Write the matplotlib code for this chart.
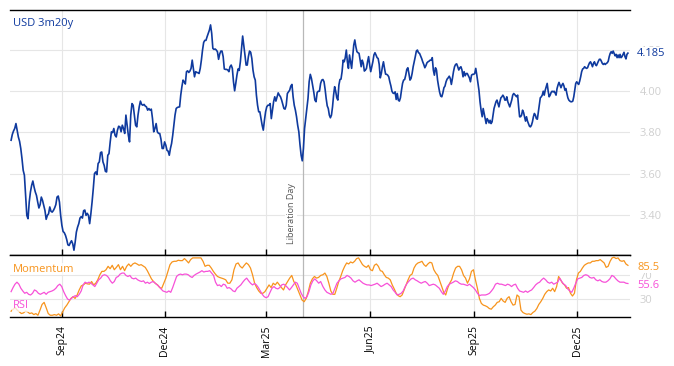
import matplotlib
matplotlib.use('Agg')
import matplotlib.pyplot as plt
import matplotlib.dates as mdates
import matplotlib.ticker as mticker
import pandas as pd

plt.rcParams['font.family'] = 'Open Sans'

# USD 3m20y rate in four stretches
rate_jul_dec24 = [3.762, 3.790, 3.807, 3.819, 3.843, 3.811, 3.778, 3.757, 3.722, 3.673, 3.616, 3.592, 3.494, 3.397, 3.381, 3.462, 3.511, 3.543, 3.564, 3.535, 3.511, 3.494, 3.462, 3.433, 3.449, 3.486, 3.470, 3.446, 3.421, 3.378, 3.397, 3.405, 3.438, 3.417, 3.413, 3.421, 3.433, 3.449, 3.486, 3.491, 3.462, 3.397, 3.349, 3.319, 3.313, 3.300, 3.280, 3.254, 3.251, 3.264, 3.274, 3.259, 3.228, 3.267, 3.316, 3.340, 3.357, 3.384, 3.391, 3.384, 3.420, 3.423, 3.397, 3.407, 3.397, 3.357, 3.405, 3.462, 3.527, 3.600, 3.608, 3.595, 3.649, 3.657, 3.702, 3.705, 3.657, 3.640, 3.611, 3.608, 3.689, 3.697, 3.754, 3.803, 3.799, 3.819, 3.786, 3.778, 3.811, 3.830, 3.827, 3.803, 3.835, 3.819, 3.795, 3.884, 3.835, 3.786, 3.754, 3.884, 3.940, 3.932, 3.884, 3.835, 3.827, 3.884, 3.924, 3.952, 3.936, 3.932, 3.936, 3.928, 3.924, 3.908, 3.916, 3.908, 3.913, 3.867, 3.803, 3.819, 3.843, 3.803, 3.795, 3.795, 3.767, 3.722, 3.722, 3.754, 3.738, 3.713]
rate_dec24_apr25 = [3.709, 3.689, 3.722, 3.746, 3.786, 3.835, 3.884, 3.916, 3.921, 3.923, 3.924, 3.981, 4.022, 4.054, 4.046, 4.035, 4.095, 4.099, 4.091, 4.098, 4.111, 4.151, 4.111, 4.070, 4.095, 4.091, 4.090, 4.086, 4.111, 4.151, 4.200, 4.237, 4.247, 4.247, 4.265, 4.281, 4.297, 4.322, 4.281, 4.208, 4.203, 4.205, 4.200, 4.192, 4.155, 4.181, 4.195, 4.195, 4.168, 4.108, 4.106, 4.106, 4.103, 4.095, 4.119, 4.127, 4.111, 4.046, 4.002, 4.038, 4.078, 4.108, 4.101, 4.143, 4.208, 4.268, 4.224, 4.176, 4.127, 4.127, 4.168, 4.195, 4.189, 4.159, 4.103, 4.070, 4.054, 3.981, 3.932, 3.900, 3.900, 3.867, 3.835, 3.811, 3.859, 3.900, 3.924, 3.932, 3.932, 3.940, 3.867, 3.908, 3.949, 3.973, 3.952, 3.973, 3.992, 3.981, 3.973, 3.957, 3.936, 3.916, 3.913, 3.932, 3.989, 3.997, 4.005, 4.025, 4.033, 3.973, 3.932, 3.908, 3.876, 3.835, 3.803, 3.741, 3.689, 3.662, 3.722, 3.819, 3.867, 3.916, 3.965, 4.046, 4.082, 4.062, 4.030, 3.997, 3.957, 3.949, 3.994, 4.000, 4.000, 4.038, 4.054, 4.057]
rate_apr_sep25 = [4.046, 4.010, 3.965, 3.929, 3.916, 3.884, 3.871, 3.884, 3.924, 3.981, 4.022, 4.000, 3.968, 3.957, 4.030, 4.057, 4.059, 4.095, 4.151, 4.143, 4.163, 4.200, 4.143, 4.111, 4.176, 4.143, 4.111, 4.168, 4.224, 4.249, 4.216, 4.192, 4.187, 4.184, 4.151, 4.119, 4.151, 4.135, 4.098, 4.103, 4.111, 4.143, 4.168, 4.127, 4.095, 4.119, 4.143, 4.176, 4.187, 4.176, 4.163, 4.159, 4.130, 4.065, 4.086, 4.119, 4.143, 4.111, 4.083, 4.082, 4.078, 4.070, 4.046, 4.026, 4.000, 3.991, 3.989, 3.997, 3.960, 3.989, 3.957, 3.952, 3.968, 4.005, 4.038, 4.054, 4.057, 4.078, 4.106, 4.114, 4.086, 4.054, 4.062, 4.086, 4.119, 4.143, 4.168, 4.195, 4.200, 4.187, 4.184, 4.172, 4.159, 4.143, 4.130, 4.114, 4.124, 4.138, 4.143, 4.146, 4.151, 4.151, 4.163, 4.103, 4.078, 4.114, 4.103, 4.054, 4.022, 3.994, 3.976, 3.973, 3.992, 4.017, 4.025, 4.046, 4.059, 4.065, 4.073, 4.062, 4.033, 4.062, 4.095, 4.119, 4.130, 4.133, 4.119, 4.103, 4.114, 4.119, 4.103, 4.070, 4.095, 4.075, 4.086, 4.086, 4.075, 4.065, 4.046, 4.078, 4.082, 4.082, 4.086, 4.111, 4.078, 4.041, 4.005, 3.949, 3.908]
rate_sep25_jan26 = [3.876, 3.916, 3.892, 3.867, 3.843, 3.867, 3.859, 3.846, 3.859, 3.843, 3.851, 3.884, 3.916, 3.932, 3.949, 3.957, 3.940, 3.924, 3.949, 3.968, 3.973, 3.981, 3.973, 3.957, 3.957, 3.973, 3.949, 3.936, 3.924, 3.940, 3.957, 3.981, 3.989, 3.984, 3.978, 3.973, 3.981, 3.924, 3.876, 3.876, 3.884, 3.908, 3.897, 3.876, 3.855, 3.876, 3.855, 3.843, 3.830, 3.827, 3.835, 3.851, 3.876, 3.892, 3.884, 3.867, 3.864, 3.900, 3.940, 3.968, 3.973, 3.981, 4.000, 3.981, 4.005, 4.022, 4.038, 4.000, 3.973, 3.981, 3.994, 4.000, 3.997, 4.000, 3.992, 3.981, 4.013, 4.030, 4.043, 4.030, 4.017, 4.030, 4.038, 4.026, 4.005, 4.013, 3.989, 3.968, 3.957, 3.952, 3.949, 3.949, 3.952, 3.973, 4.005, 4.038, 4.046, 4.038, 4.033, 4.049, 4.070, 4.095, 4.108, 4.111, 4.119, 4.114, 4.111, 4.114, 4.127, 4.138, 4.143, 4.132, 4.119, 4.135, 4.143, 4.130, 4.124, 4.135, 4.146, 4.155, 4.155, 4.146, 4.135, 4.130, 4.135, 4.130, 4.135, 4.138, 4.146, 4.168, 4.184, 4.192, 4.184, 4.195, 4.184, 4.172, 4.179, 4.163, 4.176, 4.163, 4.179, 4.163, 4.168, 4.179, 4.189, 4.168, 4.157, 4.179, 4.185]
rate_spans = [('2024-07-18', '2024-12-03'), ('2024-12-04', '2025-04-20'),
              ('2025-04-21', '2025-09-07'), ('2025-09-08', '2026-01-15')]

# momentum and RSI, two stretches each
momentum_a = [10.0, 13.3, 15.6, 11.7, 8.9, 6.1, 7.2, 10.0, 8.9, 6.1, 7.2, 4.4, 6.1, 3.3, 11.7, 21.1, 24.5, 15.6, 6.1, 3.3, 3.3, 4.4, 3.3, 5.6, 2.2, 8.9, 15.6, 20.0, 25.6, 31.1, 33.9, 31.1, 36.7, 45.0, 51.7, 53.3, 56.1, 55.0, 54.5, 58.9, 53.3, 56.1, 61.7, 70.0, 75.6, 75.6, 78.3, 83.9, 80.0, 85.6, 78.3, 82.2, 86.7, 78.3, 83.9, 76.7, 83.9, 87.8, 83.9, 87.8, 89.5, 87.8, 85.6, 86.7, 84.5, 82.2, 76.7, 70.0, 63.3, 58.9, 55.6, 53.3, 48.9, 47.8, 56.1, 64.5, 75.6, 86.7, 91.1, 92.2, 92.2, 93.9, 93.3, 93.3, 96.7, 93.3, 89.5, 95.0, 97.8, 97.8, 97.8, 97.8, 97.8, 92.2, 83.9, 85.6, 85.6, 81.1, 75.6, 71.1, 67.2, 65.6, 64.5, 63.3, 61.7, 56.1, 56.1, 61.7, 78.3, 87.8, 89.5, 83.9, 81.1, 85.6, 89.5, 86.7, 81.1, 70.0, 56.1, 48.9, 43.3, 39.5, 39.5, 42.2, 47.8, 53.3, 48.9, 56.1, 53.3, 57.8, 53.3, 48.9, 45.0, 53.3, 58.9, 64.5, 68.9, 58.9, 53.3, 45.0, 36.7, 28.3, 25.6, 31.1, 42.2, 56.1, 63.3, 67.2, 64.5, 65.6, 68.9]
momentum_b = [70.0, 72.8, 67.2, 56.1, 43.3, 37.8, 37.8, 47.8, 58.9, 67.2, 76.7, 83.9, 89.5, 87.8, 91.1, 89.5, 92.2, 96.7, 97.8, 92.2, 86.7, 83.9, 82.2, 85.6, 78.3, 76.7, 85.6, 87.8, 83.9, 76.7, 75.6, 70.0, 65.6, 64.5, 61.7, 53.3, 46.7, 39.5, 35.6, 33.9, 36.7, 45.0, 53.3, 61.7, 68.9, 71.1, 81.1, 86.7, 89.5, 90.6, 92.2, 86.7, 83.9, 87.8, 90.6, 89.5, 78.3, 72.8, 68.9, 60.0, 50.6, 41.1, 36.7, 47.8, 56.1, 61.7, 72.8, 81.1, 83.9, 83.9, 78.3, 68.9, 64.5, 56.1, 63.3, 75.6, 78.3, 61.7, 47.8, 31.1, 22.8, 20.0, 18.9, 17.2, 14.4, 13.3, 17.2, 20.0, 24.5, 25.6, 31.1, 26.7, 24.5, 31.1, 33.9, 25.6, 20.0, 21.1, 36.7, 33.9, 11.7, 7.8, 6.1, 5.0, 5.6, 4.4, 7.8, 10.0, 14.4, 21.1, 25.6, 31.1, 37.8, 42.2, 45.0, 43.3, 47.8, 42.2, 50.6, 67.2, 61.7, 56.1, 53.3, 47.8, 48.9, 39.5, 35.0, 39.5, 61.7, 72.8, 75.6, 81.1, 85.6, 87.8, 89.5, 89.5, 92.2, 92.2, 93.3, 93.3, 95.0, 92.2, 89.5, 82.2, 83.9, 92.2, 97.8, 98.9, 96.7, 97.8, 93.3, 92.2, 93.3, 87.8, 85.5]
rsi_a = [42.2, 48.9, 54.5, 57.8, 54.5, 47.8, 43.3, 39.5, 41.1, 37.8, 36.7, 39.5, 45.0, 43.3, 39.5, 37.8, 39.5, 41.1, 37.8, 41.1, 42.2, 43.3, 45.0, 47.8, 52.2, 54.5, 50.6, 42.2, 35.6, 30.0, 28.3, 31.1, 33.9, 35.6, 33.9, 37.8, 43.3, 53.3, 57.8, 56.1, 57.8, 56.1, 53.3, 50.6, 56.1, 61.7, 64.5, 68.9, 70.0, 68.9, 65.6, 60.0, 56.1, 58.9, 65.6, 67.2, 71.1, 72.8, 72.8, 68.9, 67.2, 68.9, 64.5, 63.3, 64.5, 61.7, 60.0, 58.9, 60.0, 56.1, 57.8, 55.6, 57.8, 58.9, 56.1, 53.3, 50.6, 46.7, 43.3, 42.2, 41.1, 43.3, 41.1, 48.9, 57.8, 67.2, 70.0, 71.1, 70.0, 71.1, 71.1, 70.0, 67.2, 65.6, 68.9, 71.1, 72.8, 74.5, 76.7, 74.5, 75.6, 75.6, 76.7, 72.8, 68.9, 57.8, 52.2, 53.3, 50.6, 54.5, 53.3, 47.8, 48.9, 46.7, 43.3, 42.2, 47.8, 50.6, 53.3, 57.8, 61.7, 64.5, 60.0, 56.1, 53.3, 55.6, 53.3, 48.9, 43.3, 37.8, 33.9, 32.2, 33.9, 41.1, 47.8, 50.6, 47.8, 46.7, 48.9, 53.3, 54.5, 52.2, 48.9, 45.0, 48.9, 53.3, 57.8, 56.1, 47.8, 39.5, 33.9, 31.1, 33.9, 42.2, 53.3, 60.0, 63.3, 60.0, 56.1, 58.9]
rsi_b = [50.6, 45.0, 41.1, 39.5, 37.8, 39.5, 47.8, 56.1, 60.0, 63.3, 64.5, 65.6, 68.9, 67.2, 64.5, 60.0, 57.8, 60.0, 61.7, 58.9, 56.1, 54.5, 53.3, 53.3, 52.2, 53.3, 54.5, 56.1, 53.3, 50.6, 52.2, 54.5, 56.1, 53.3, 50.6, 45.0, 41.1, 36.7, 37.8, 39.5, 43.3, 50.6, 56.1, 60.0, 63.3, 64.5, 61.7, 60.0, 57.8, 56.1, 57.8, 58.9, 56.1, 52.2, 53.3, 54.5, 53.3, 50.6, 47.8, 42.2, 37.8, 43.3, 50.6, 54.5, 56.1, 57.8, 60.0, 58.9, 56.1, 54.5, 54.5, 53.3, 52.2, 54.5, 51.7, 48.9, 45.0, 39.5, 35.6, 36.7, 36.7, 36.7, 37.8, 39.5, 43.3, 47.8, 54.5, 56.1, 54.5, 54.5, 53.3, 52.2, 54.5, 53.3, 50.6, 53.3, 54.5, 47.8, 43.3, 42.2, 41.1, 43.3, 41.1, 43.3, 45.0, 48.9, 53.3, 56.1, 57.8, 61.7, 64.5, 61.7, 57.8, 56.1, 57.8, 54.5, 56.1, 57.8, 64.5, 58.9, 54.5, 52.2, 46.7, 43.3, 41.1, 47.8, 56.1, 63.3, 64.5, 65.6, 68.9, 70.0, 68.9, 65.6, 64.5, 65.6, 61.7, 60.0, 61.7, 58.9, 57.8, 57.8, 60.0, 63.3, 68.9, 67.2, 63.3, 60.0, 57.8, 57.8, 57.8, 56.1, 55.6]
osc_spans = [('2024-07-18', '2025-04-18'), ('2025-04-20', '2026-01-15')]

liberation_day = pd.Timestamp('2025-04-02')

BLUE = '#0f3a9e'
ORANGE = '#f7941d'
PINK = '#f751d8'
GRID = '#e6e6e6'
FAINT = '#cfcfcf'


def stitch(pieces, spans):
    dates, vals = [], []
    for seg, (a, b) in zip(pieces, spans):
        dates.extend(pd.date_range(a, b, periods=len(seg)))
        vals.extend(seg)
    return dates, vals


rate_x, rate_y = stitch([rate_jul_dec24, rate_dec24_apr25, rate_apr_sep25, rate_sep25_jan26], rate_spans)
mom_x, mom_y = stitch([momentum_a, momentum_b], osc_spans)
rsi_x, rsi_y = stitch([rsi_a, rsi_b], osc_spans)

fig = plt.figure(figsize=(6.74, 3.66), dpi=100)
gs = fig.add_gridspec(2, 1, height_ratios=[244, 62], hspace=0,
                      left=0.0148, right=0.935, top=0.973, bottom=0.134)
ax = fig.add_subplot(gs[0])
ax2 = fig.add_subplot(gs[1], sharex=ax)

# main rate
ax.plot(rate_x, rate_y, color=BLUE, lw=1.2)
ax.set_ylim(3.206, 4.395)
ax.set_yticks([3.4, 3.6, 3.8, 4.0, 4.2])
ax.yaxis.set_major_formatter(mticker.FormatStrFormatter('%.2f'))
ax.text(0.005, 0.965, 'USD 3m20y', transform=ax.transAxes, va='top', ha='left',
        color=BLUE, fontsize=8)
ax.annotate(f'{rate_y[-1]:.3f}', xy=(1, rate_y[-1]), xycoords=('axes fraction', 'data'),
            xytext=(7, 0), textcoords='offset pixels', va='center', ha='left',
            color=BLUE, fontsize=8, bbox=dict(fc='white', ec='none', pad=0.3))

# oscillators
ax2.plot(mom_x, mom_y, color=ORANGE, lw=0.9)
ax2.plot(rsi_x, rsi_y, color=PINK, lw=0.9)
ax2.set_ylim(0.5, 103)
ax2.set_yticks([30, 70])
ax2.text(0.005, 0.77, 'Momentum', transform=ax2.transAxes, va='center', ha='left',
         color=ORANGE, fontsize=8, bbox=dict(fc='white', ec='none', alpha=0.75, pad=0.5))
ax2.text(0.005, 0.18, 'RSI', transform=ax2.transAxes, va='center', ha='left',
         color=PINK, fontsize=8, bbox=dict(fc='white', ec='none', alpha=0.75, pad=0.5))
for val, col, dy in [(mom_y[-1], ORANGE, -2), (rsi_y[-1], PINK, -2)]:
    ax2.annotate(f'{val:.1f}', xy=(1, val), xycoords=('axes fraction', 'data'),
                 xytext=(7, dy), textcoords='offset pixels', va='center', ha='left',
                 color=col, fontsize=8, bbox=dict(fc='white', ec='none', pad=0.2))

# liberation day marker
for a in (ax, ax2):
    a.axvline(liberation_day, color='#b8b8b8', lw=0.9, zorder=1)
ax.annotate('Liberation Day', xy=(liberation_day, 0), xycoords=('data', 'axes fraction'),
            xytext=(-7, 11), textcoords='offset pixels', rotation=90, ha='right', va='bottom',
            fontsize=6.5, color='#555555', bbox=dict(fc='white', ec='none', pad=0.8))

ax.set_xlim(pd.Timestamp('2024-07-17'), pd.Timestamp('2026-01-17'))
ax2.xaxis.set_major_locator(mdates.MonthLocator(bymonth=[3, 6, 9, 12]))
ax2.xaxis.set_major_formatter(mdates.DateFormatter('%b%y'))

for a in (ax, ax2):
    a.grid(True, color=GRID, lw=0.8)
    a.set_axisbelow(True)
    a.yaxis.tick_right()
    a.tick_params(axis='y', length=0, pad=7, labelcolor=FAINT, labelsize=8)
    a.tick_params(axis='x', direction='in', length=4, width=1, color='black')
    for s in ('left', 'right'):
        a.spines[s].set_visible(False)
    for s in ('top', 'bottom'):
        a.spines[s].set_color('black')
        a.spines[s].set_linewidth(1)

ax.tick_params(axis='x', labelbottom=False)
ax2.tick_params(axis='x', labelrotation=90, labelsize=7.5, pad=6)

fig.savefig('out.png', dpi=100)
